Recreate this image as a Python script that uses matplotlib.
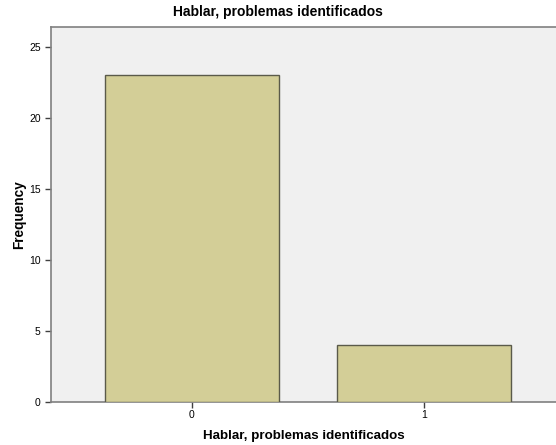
import matplotlib.pyplot as plt

# datos
categorias = ["0", "1"]
frecuencias = [23, 4]

plt.rcParams['font.family'] = ['Liberation Sans', 'DejaVu Sans']

fig = plt.figure(figsize=(5.56, 4.45), dpi=100)
ax = fig.add_axes([51 / 556, 43 / 445, 1 - 51 / 556, 375 / 445])

ax.set_facecolor('#F0F0F0')
posiciones = range(len(categorias))
ax.bar(posiciones, frecuencias, width=0.75, color='#D3CE97',
       edgecolor='#5a5a4a', linewidth=1.0, zorder=3)

ax.set_xlim(-0.608, 1.57)
ax.set_ylim(0, 26.4)
ax.set_yticks([0, 5, 10, 15, 20, 25])
ax.set_xticks(list(posiciones))
ax.set_xticklabels(categorias)

for lado in ['left', 'top', 'bottom']:
    ax.spines[lado].set_color('#808080')
    ax.spines[lado].set_linewidth(1.2)
ax.spines['right'].set_visible(False)

ax.tick_params(axis='both', colors='#404040', labelcolor='black',
               labelsize=7.5, length=4, width=1)
ax.tick_params(axis='x', pad=2)

# el titulo va centrado en la figura, no en los ejes
fig.text(0.5, 1 - 12 / 445, "Hablar, problemas identificados",
         fontsize=10, fontweight='bold', ha='center', va='center')
ax.set_xlabel("Hablar, problemas identificados", fontsize=9.6, fontweight='bold', labelpad=7)
ax.set_ylabel("Frequency", fontsize=9.8, fontweight='bold', labelpad=2)

plt.savefig("out.png", dpi=100)
